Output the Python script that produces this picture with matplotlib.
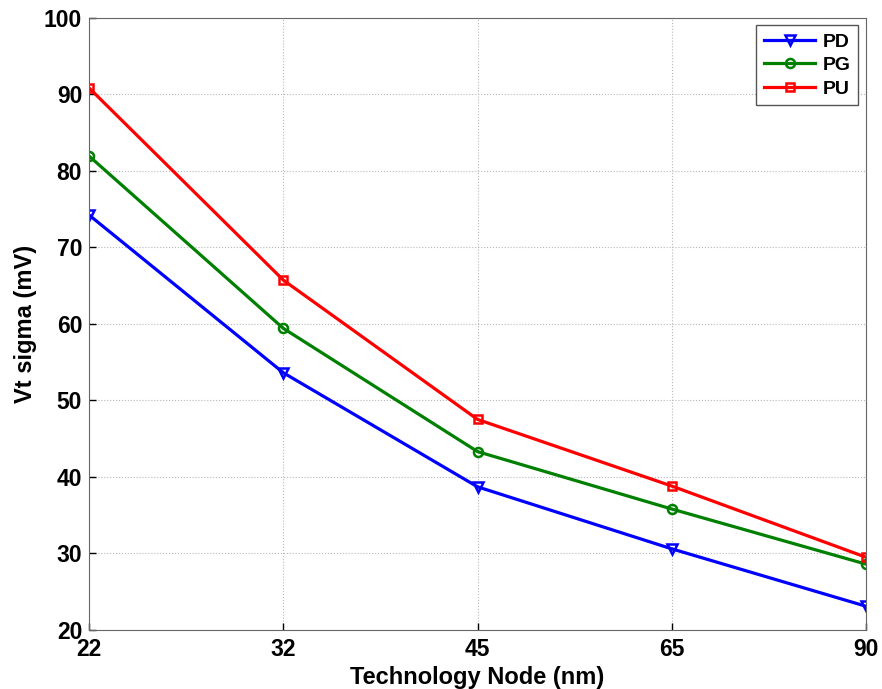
import matplotlib
matplotlib.use("Agg")
import matplotlib.pyplot as plt

nodes = ["22", "32", "45", "65", "90"]
pd_vals = [74.2, 53.6, 38.7, 30.6, 23.1]
pg_vals = [81.9, 59.4, 43.3, 35.8, 28.6]
pu_vals = [90.8, 65.7, 47.5, 38.8, 29.5]

plt.rcParams['font.family'] = ['Liberation Sans', 'DejaVu Sans']
fig = plt.figure(figsize=(8.82, 6.89), dpi=100)
ax = fig.add_axes([0.101, 0.0856, 0.881, 0.889])
x = list(range(len(nodes)))
ax.plot(x, pd_vals, color='blue', lw=2.3, marker='v', ms=7, mfc='none', mew=1.8, label='PD')
ax.plot(x, pg_vals, color='green', lw=2.3, marker='o', ms=6.5, mfc='none', mew=1.8, label='PG')
ax.plot(x, pu_vals, color='red', lw=2.3, marker='s', ms=6, mfc='none', mew=1.8, label='PU')
ax.set_xlim(0, 4)
ax.set_ylim(20, 100)
ax.set_xticks(x)
ax.set_xticklabels(nodes)
ax.set_yticks(range(20, 101, 10))
ax.grid(True, linestyle=':', color='#b8b8b8', lw=0.8)
ax.tick_params(labelsize=16.5, direction='in', length=5, width=1, colors='black')
ax.tick_params(axis='x', pad=6)
ax.tick_params(axis='y', pad=5)
for lab in ax.get_xticklabels() + ax.get_yticklabels():
    lab.set_fontweight('bold')
for s in ax.spines.values():
    s.set_color('#666666')
ax.set_xlabel('Technology Node (nm)', fontsize=17, fontweight='bold', labelpad=3)
ax.set_ylabel('Vt sigma (mV)', fontsize=17, fontweight='bold', labelpad=5)
leg = ax.legend(loc='upper right', prop={'weight': 'bold', 'size': 14}, fancybox=False,
                edgecolor='#555555', framealpha=1, handlelength=2.6, handletextpad=0.4,
                labelspacing=0.3, borderaxespad=0.4, bbox_to_anchor=(1.0, 1.0))
fig.savefig('out.png', dpi=100)
